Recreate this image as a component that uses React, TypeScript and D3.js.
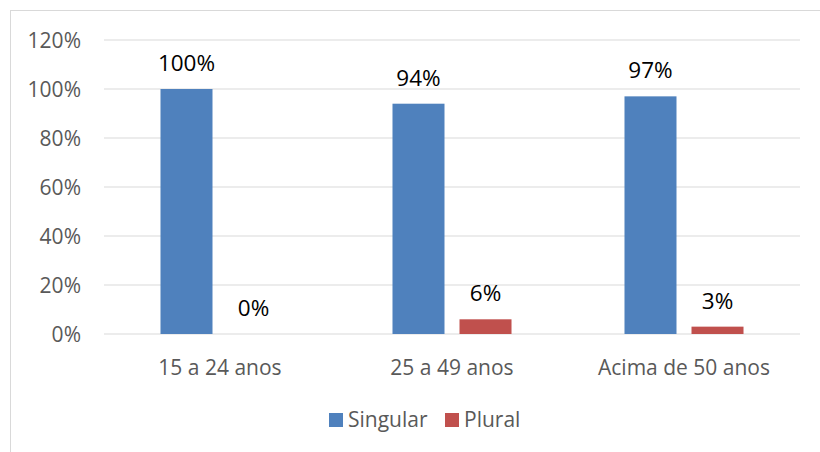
import React from "react";
import * as d3 from "d3";

const categories = ["15 a 24 anos", "25 a 49 anos", "Acima de 50 anos"];
const seriesNames = ["Singular", "Plural"];
const singular = [100, 94, 97];
const plural = [0, 6, 3];
const yTicks = [0, 20, 40, 60, 80, 100, 120];

const colors = ["#4F81BD", "#C0504D"];
const W = 820;
const H = 452;
const FONT = "'Open Sans', 'Liberation Sans', sans-serif";

export default function App() {
  const plotLeft = 104;
  const plotRight = 800;
  const y = d3.scaleLinear().domain([0, 120]).range([334, 40]);
  const x0 = d3.scaleBand<string>().domain(categories).range([plotLeft, plotRight]).padding(0);
  const x1 = d3
    .scaleBand<string>()
    .domain(seriesNames)
    .range([0, x0.bandwidth()])
    .paddingInner(0.224)
    .paddingOuter(0.843);
  const series = [singular, plural];

  return (
    <svg
      width={W}
      height={H}
      style={{ position: "absolute", left: 0, top: 0, background: "#fff" }}
      fontFamily={FONT}
    >
      <rect x={10.5} y={10.5} width={W} height={H} fill="#fff" stroke="#d9d9d9" strokeWidth={1} />
      {yTicks.map((t) => (
        <g key={t}>
          <line x1={plotLeft} x2={plotRight} y1={y(t)} y2={y(t)} stroke="#d9d9d9" strokeWidth={1.2} />
          <text x={81} y={y(t) + 7.5} textAnchor="end" fontSize={21} fill="#595959">
            {t}%
          </text>
        </g>
      ))}
      {categories.map((c, i) => (
        <g key={c}>
          {seriesNames.map((s, j) => {
            const v = series[j][i];
            const bx = (x0(c) ?? 0) + (x1(s) ?? 0);
            const bw = x1.bandwidth();
            return (
              <g key={s}>
                <rect x={bx} y={y(v)} width={bw} height={y(0) - y(v)} fill={colors[j]} />
                <text
                  x={bx + bw / 2}
                  y={y(v) - 18}
                  textAnchor="middle"
                  fontSize={22.5}
                  fill="#000"
                >
                  {v}%
                </text>
              </g>
            );
          })}
          <text
            x={(x0(c) ?? 0) + x0.bandwidth() / 2}
            y={375}
            textAnchor="middle"
            fontSize={21}
            fill="#595959"
          >
            {c}
          </text>
        </g>
      ))}
      <g>
        <rect x={329} y={413} width={14} height={14} fill={colors[0]} />
        <text x={348} y={427} fontSize={21} fill="#595959">
          {seriesNames[0]}
        </text>
        <rect x={445} y={413} width={14} height={14} fill={colors[1]} />
        <text x={464} y={427} fontSize={21} fill="#595959">
          {seriesNames[1]}
        </text>
      </g>
    </svg>
  );
}
